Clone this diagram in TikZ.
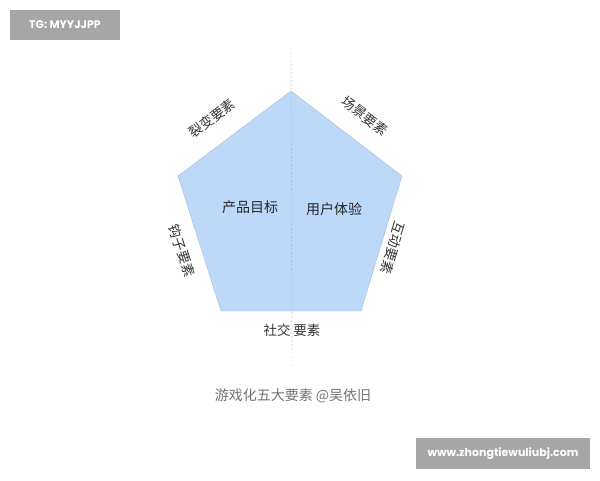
\documentclass[tikz,border=0pt]{standalone}
\usepackage{fontspec}
\setmainfont{Noto Sans CJK SC}
\newfontfamily\tagfont{Poppins}
\usetikzlibrary{positioning}
\definecolor{pentafill}{HTML}{BDD9FA}
\definecolor{pentaline}{HTML}{A9BCD6}
\definecolor{tagbg}{HTML}{A6A6A6}
\definecolor{labeltxt}{HTML}{333333}
\tikzset{
    sidelabel/.style = {text=labeltxt, font=\fontsize{13.5}{15}\selectfont, inner sep=1pt},
    innerlabel/.style = {text=black!85, font=\fontsize{14}{16}\selectfont, inner sep=1pt},
    tagbox/.style = {fill=tagbg, text=white, font=\tagfont\bfseries\fontsize{11}{13}\selectfont, inner sep=0pt}
}

\begin{document}
\begin{tikzpicture}[x=1pt,y=-1pt]

    % Page size.
    \useasboundingbox (0,0) rectangle (600,480);

    % Corners of the pentagon.
    \coordinate (top) at (291,91);
    \coordinate (uright) at (402,176);
    \coordinate (lright) at (361,311);
    \coordinate (lleft) at (221,311);
    \coordinate (uleft) at (178,176);

    % Draw the pentagon.
    \fill[pentafill] (top) -- (uright) -- (lright) -- (lleft) -- (uleft) -- cycle;
    \draw[pentaline,line width=0.4pt] (top) -- (uright) -- (lright) -- (lleft) -- (uleft) -- cycle;

    % Draw the dashed middle line.
    \coordinate (axistop) at (291,48);
    \coordinate (axisbot) at (292,366);
    \draw[black!30,dash pattern=on 2pt off 2pt,line width=0.4pt] (axistop) -- (axisbot);

    % Labels inside.
    \node[innerlabel] (goal) at (250,207) {产品目标};
    \node[innerlabel] (exp) at (334,209) {用户体验};

    % Labels along the sides.
    \node[sidelabel,rotate=37] (fission) at (212,118) {裂变要素};
    \node[sidelabel,rotate=-37] (scene) at (365,116) {场景要素};
    \node[sidelabel,rotate=-107] (interact) at (393,248) {互动要素};
    \node[sidelabel,rotate=-72] (hook) at (182,251) {钩子要素};
    \node[sidelabel] (social) at (292,330) {社交\hspace{3pt}要素};

    % Caption.
    \node[text=black!55,font=\fontsize{14}{16}\selectfont] (caption) at (293,396) {游戏化五大要素 @吴依旧};

    % Grey tags.
    \node[tagbox,minimum width=110pt,minimum height=30pt] (tag) at (65,25) {TG: MYYJJPP};
    \node[tagbox,minimum width=174pt,minimum height=31pt] (site) at (503,453.5) {www.zhongtiewuliubj.com};

\end{tikzpicture}
\end{document}
